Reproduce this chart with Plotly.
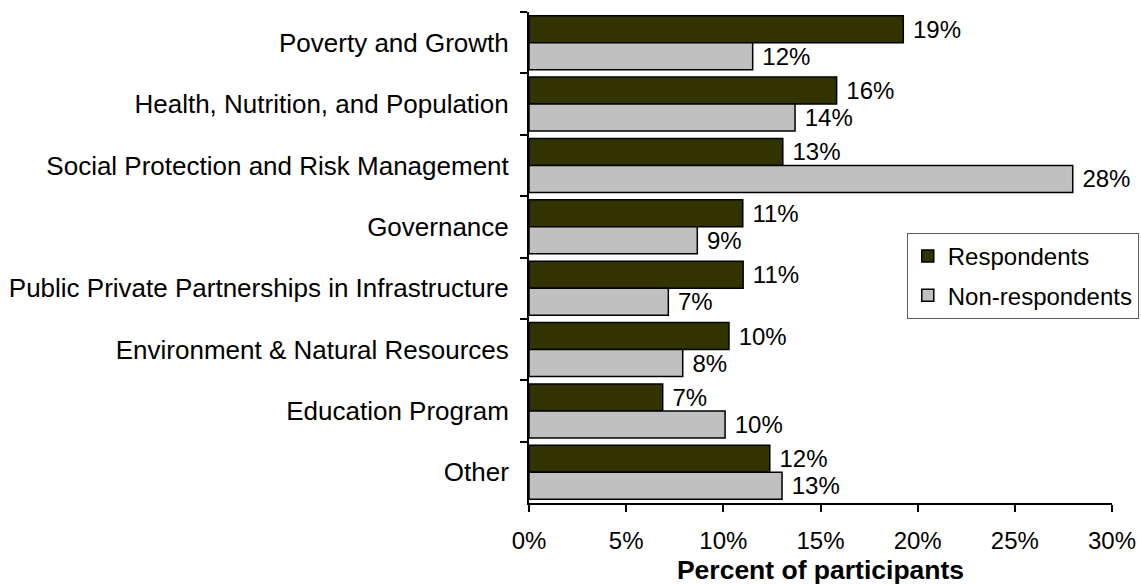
import plotly.graph_objects as go

# Program areas, top to bottom
categories = [
    "Poverty and Growth",
    "Health, Nutrition, and Population",
    "Social Protection and Risk Management",
    "Governance",
    "Public Private Partnerships in Infrastructure",
    "Environment & Natural Resources",
    "Education Program",
    "Other",
]

# Share of participants (%) per program area
respondents = [19.26, 15.83, 13.06, 11.0, 11.02, 10.29, 6.88, 12.39]
non_respondents = [11.51, 13.69, 27.98, 8.66, 7.17, 7.91, 10.09, 13.02]

x_ticks = [0, 5, 10, 15, 20, 25, 30]
x_tick_text = [f"{v}%" for v in x_ticks]

FONT = "Liberation Sans, Arial, sans-serif"

fig = go.Figure()
for name, values, color in [
    ("Respondents", respondents, "#333300"),
    ("Non-respondents", non_respondents, "#C0C0C0"),
]:
    fig.add_trace(go.Bar(
        name=name,
        legendgroup=name,
        y=categories,
        x=values,
        orientation="h",
        marker=dict(color=color, line=dict(color="black", width=1.5)),
        texttemplate="\u00a0%{x:.0f}%",
        textposition="outside",
        textfont=dict(family=FONT, size=24, color="black"),
        constraintext="none",
        cliponaxis=False,
    ))

fig.update_layout(
    width=1141,
    height=585,
    margin=dict(l=529, r=29, t=12, b=82, autoexpand=False),
    paper_bgcolor="white",
    plot_bgcolor="white",
    barmode="group",
    bargap=0.12,
    bargroupgap=0,
    font=dict(family=FONT, size=24, color="black"),
    showlegend=True,
    legend=dict(
        x=0.648, y=0.55, xanchor="left", yanchor="top",
        bgcolor="white", bordercolor="#606060", borderwidth=1,
        traceorder="grouped", tracegroupgap=5,
        font=dict(family=FONT, size=24, color="black"),
    ),
    xaxis=dict(
        range=[0, 30],
        tickvals=x_ticks,
        ticktext=x_tick_text,
        ticks="outside", ticklen=7, tickcolor="black", tickwidth=1.5,
        showline=True, linecolor="black", linewidth=2,
        showgrid=False, zeroline=False,
        tickfont=dict(family=FONT, size=24),
        ticklabelstandoff=8,
        title=dict(text="<b>Percent of participants</b>",
                   font=dict(family=FONT, size=26.5), standoff=10),
    ),
    yaxis=dict(
        autorange="reversed",
        tickson="boundaries",
        ticks="outside", ticklen=7, tickcolor="black", tickwidth=1.5,
        showline=True, linecolor="black", linewidth=2,
        showgrid=False, zeroline=False,
        tickfont=dict(family=FONT, size=26),
        ticklabelstandoff=13,
    ),
)

fig.write_html("out.html")
